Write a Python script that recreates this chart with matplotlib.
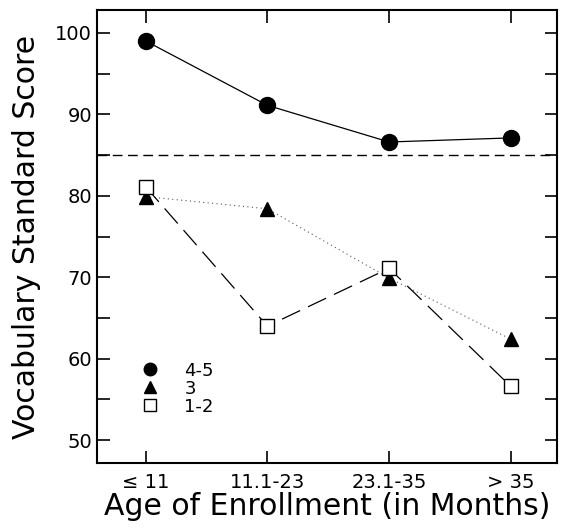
import matplotlib
matplotlib.use("Agg")
import matplotlib.pyplot as plt
from matplotlib.lines import Line2D
from matplotlib.ticker import MultipleLocator

categories = ["\u2264 11", "11.1-23", "23.1-35", "> 35"]
scores_45 = [99.0, 91.1, 86.6, 87.1]
scores_3 = [79.9, 78.4, 69.9, 62.4]
scores_12 = [81.1, 64.0, 71.1, 56.6]
reference_score = 85
legend_labels = ["4-5", "3", "1-2"]

plt.rcParams['font.family'] = ['DejaVu Sans']

fig = plt.figure(figsize=(5.66, 5.27), dpi=100)
ax = fig.add_axes([97/566, 1 - 463/527, (557-97)/566, (463-10)/527])

x = list(range(len(categories)))

ax.axhline(reference_score, color='black', lw=1.0, ls=(0, (7, 4)))
ax.plot(x, scores_45, color='black', lw=0.9, ls='-', marker='o', ms=11.5,
        mfc='black', mec='black', zorder=3)
ax.plot(x, scores_3, color='#555555', lw=0.8, ls=(0, (1, 3)), marker='^', ms=10,
        mfc='black', mec='black', zorder=3)
ax.plot(x, scores_12, color='black', lw=0.9, ls=(0, (16, 7)), marker='s', ms=10,
        mfc='white', mec='black', mew=1.0, zorder=4)

ax.set_xlim(-0.40, 3.38)
ax.set_ylim(47.2, 102.8)
ax.set_xticks(x)
ax.set_xticklabels(categories, fontsize=14)
ax.yaxis.set_major_locator(MultipleLocator(10))
ax.yaxis.set_minor_locator(MultipleLocator(5))
ax.tick_params(axis='both', which='both', direction='in', length=9, width=1.2,
               top=True, right=True, labelsize=14)
ax.tick_params(axis='x', which='minor', top=False, bottom=False)
ax.tick_params(axis='x', pad=7)
for s in ax.spines.values():
    s.set_linewidth(1.5)

ax.set_xlabel("Age of Enrollment (in Months)", fontsize=21.5, labelpad=0)
ax.set_ylabel("Vocabulary Standard Score", fontsize=21.5, labelpad=10)

handles = [
    Line2D([], [], ls='none', marker='o', ms=9, mfc='black', mec='black'),
    Line2D([], [], ls='none', marker='^', ms=8, mfc='black', mec='black'),
    Line2D([], [], ls='none', marker='s', ms=8, mfc='white', mec='black'),
]
ax.legend(handles, legend_labels, loc='upper left', bbox_to_anchor=(0.08, 0.24),
          frameon=False, fontsize=13, handlelength=1.0, handletextpad=1.4,
          labelspacing=0.0, borderaxespad=0)

fig.savefig("out.png", dpi=100)
